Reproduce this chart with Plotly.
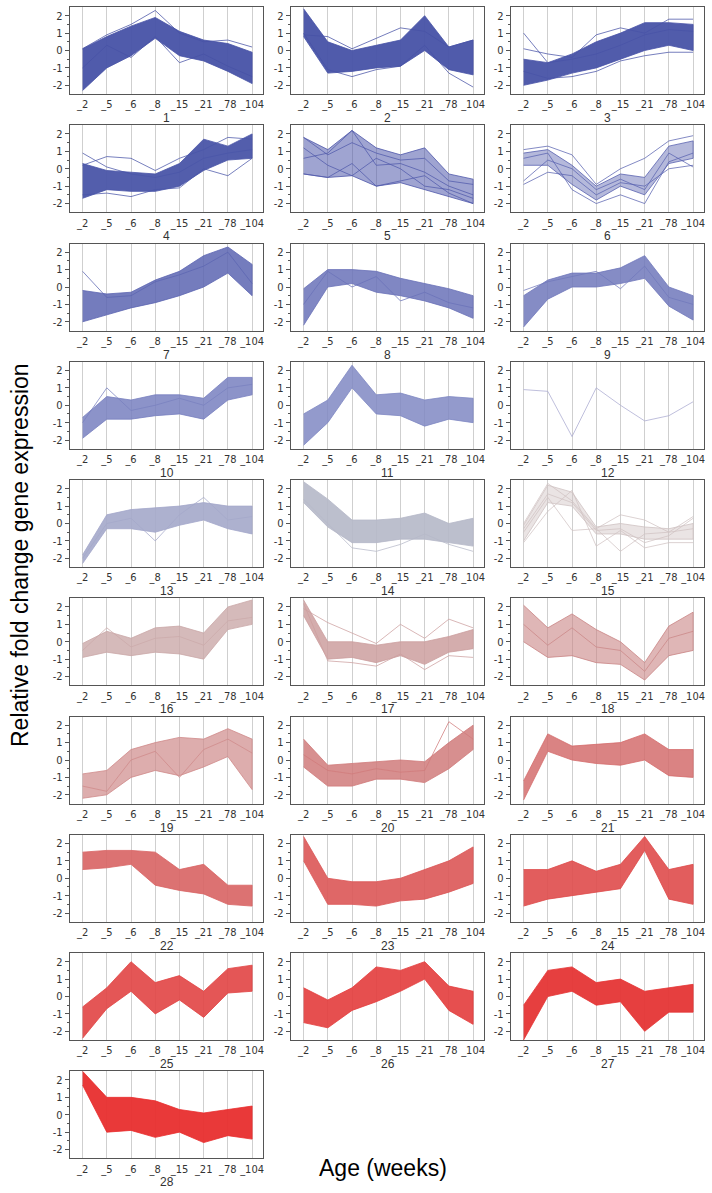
import plotly.graph_objects as go

W, H = 712, 1193
ages = ["_2", "_5", "_6", "_8", "_15", "_21", "_78", "_104"]
y_ticks = [-2, -1, 0, 1, 2]
panel_labels = [str(i) for i in range(1, 29)]

# ---- data: for each cluster, the upper / lower edge of the dense bundle and a few stray profiles ----
p01_hi = [0.1, 0.8, 1.4, 1.9, 1.1, 0.6, 0.4, -0.1]
p01_lo = [-2.3, -1.0, -0.3, 0.7, -0.3, -0.6, -1.2, -1.9]
p01_out = [[0.1, 0.9, 1.5, 2.3, 1.0, 0.5, 0.6, 0.2], [-1.0, 0.3, -0.4, 0.8, -0.7, -0.2, -0.9, -1.5]]

p02_hi = [2.4, 0.5, 0.0, 0.3, 0.6, 2.0, 0.2, 0.6]
p02_lo = [0.8, -1.3, -1.2, -1.0, -0.9, 0.0, -1.1, -1.4]
p02_out = [[0.9, 0.8, 0.1, 0.7, 1.3, 1.1, 0.2, 0.6], [1.0, -1.1, -1.5, -1.1, -0.9, 0.3, -1.3, -2.1]]

p03_hi = [-0.5, -0.7, -0.2, 0.5, 1.0, 1.6, 1.6, 1.5]
p03_lo = [-2.0, -1.7, -1.3, -1.0, -0.5, 0.0, 0.3, 0.0]
p03_out = [[1.0, -0.7, -0.5, -0.2, 0.3, 0.9, 1.2, 1.1], [0.1, -0.2, -0.4, 0.9, 1.3, 1.0, 1.8, 1.8],
           [-1.2, -1.6, -1.5, -1.2, -0.6, -0.3, -0.1, -0.1]]

p04_hi = [0.3, -0.1, -0.2, -0.3, 0.3, 1.7, 1.3, 2.0]
p04_lo = [-1.7, -1.2, -1.3, -1.3, -1.0, -0.1, 0.5, 0.6]
p04_out = [[0.9, 0.1, -0.3, -0.5, -0.2, 0.6, 0.9, 1.1], [0.2, 0.7, 0.6, -0.1, 0.6, 1.1, 1.8, 1.7],
           [-1.5, -1.4, -1.6, -1.2, -1.1, 0.0, -0.4, 0.6]]

p05_hi = [1.8, 1.1, 2.2, 1.2, 0.8, 1.2, -0.3, -0.6]
p05_lo = [-0.3, -0.5, -0.4, -1.0, -0.8, -1.2, -1.6, -2.0]
p05_out = [[1.8, 0.8, 1.5, 0.9, 0.5, 0.6, -0.7, -0.9], [-0.3, -0.5, 0.3, -1.0, -0.7, -0.4, -1.4, -2.0],
           [0.6, 0.9, 2.2, 0.2, 0.3, -0.2, -1.0, -1.5], [1.2, 0.2, -0.4, 0.6, 0.0, -1.0, -1.2, -1.7]]

p06_hi = [0.9, 1.1, 0.2, -1.0, -0.3, -0.5, 1.3, 1.6]
p06_lo = [0.2, 0.2, -0.9, -1.8, -1.0, -1.5, 0.3, 0.6]
p06_out = [[-0.9, -0.2, -0.4, -1.5, -0.8, -1.0, 0.0, 0.2], [1.1, 1.3, 0.8, -0.9, 0.0, 0.6, 1.6, 1.9],
           [0.6, 0.9, -1.2, -2.0, -1.5, -2.0, 0.4, 0.9], [-0.7, 0.5, 0.0, -1.2, -0.6, -1.2, 0.9, 0.1]]

p07_hi = [-0.2, -0.4, -0.3, 0.4, 0.9, 1.8, 2.3, 1.3]
p07_lo = [-2.0, -1.6, -1.2, -0.9, -0.5, 0.0, 0.8, -0.5]
p07_out = [[0.9, -0.6, -0.5, 0.3, 0.7, 1.2, 2.0, 0.2]]

p08_hi = [-0.1, 1.0, 1.0, 0.9, 0.5, 0.2, -0.1, -0.5]
p08_lo = [-2.2, 0.0, 0.2, -0.3, -0.5, -0.8, -1.2, -1.8]
p08_out = [[-1.0, 0.9, 0.0, 0.6, -0.8, -0.3, -0.9, -1.2]]

p09_hi = [-0.5, 0.4, 0.8, 0.8, 1.1, 1.8, 0.0, -0.5]
p09_lo = [-2.3, -0.7, 0.0, 0.0, 0.2, 0.5, -1.1, -1.9]
p09_out = [[-0.2, 0.3, 0.6, 0.9, -0.1, 1.2, -0.6, -1.0]]

p10_hi = [-0.7, 0.5, 0.3, 0.6, 0.6, 0.4, 1.6, 1.6]
p10_lo = [-1.9, -0.8, -0.8, -0.6, -0.5, -0.8, 0.3, 0.6]
p10_out = [[-1.0, 1.0, -0.3, 0.0, 0.4, 0.0, 1.0, 1.2]]

p11_hi = [-0.5, 0.3, 2.3, 0.6, 0.7, 0.3, 0.5, 0.4]
p11_lo = [-2.3, -1.0, 1.0, -0.5, -0.6, -1.2, -0.8, -1.0]
p11_out = []

p12_hi = None
p12_lo = None
p12_out = [[0.9, 0.8, -1.8, 1.0, 0.0, -0.9, -0.6, 0.2]]

p13_hi = [-1.8, 0.5, 0.8, 0.9, 1.0, 1.2, 1.0, 1.0]
p13_lo = [-2.3, -0.3, -0.3, -0.5, -0.1, 0.2, -0.3, -0.6]
p13_out = [[-2.0, 0.0, 0.3, -1.0, 0.5, 1.5, 0.2, 0.4]]

p14_hi = [2.4, 1.4, 0.2, 0.2, 0.3, 0.6, 0.0, 0.3]
p14_lo = [1.2, -0.2, -1.1, -1.1, -0.9, -0.9, -1.1, -1.3]
p14_out = [[1.4, 0.0, -1.4, -1.6, -1.2, -0.6, -1.2, -1.6]]

p15_hi = [-0.1, 2.2, 1.8, -0.2, 0.0, -0.2, -0.3, 0.0]
p15_lo = [-1.0, 1.2, 1.0, -0.6, -0.6, -0.9, -0.9, -0.9]
p15_out = [[0.0, 2.3, 1.3, -0.3, 0.5, 0.2, -0.5, 0.4], [-1.1, 0.7, 1.9, -1.3, -0.4, -1.4, -1.1, -1.1],
           [-0.5, 1.5, -0.4, -0.3, -1.6, -0.6, -0.5, -0.3], [-0.3, 1.7, 1.2, -0.4, -0.3, -1.1, -0.7, 0.3]]

p16_hi = [-0.1, 0.6, 0.2, 0.8, 0.9, 0.5, 2.0, 2.4]
p16_lo = [-0.9, -0.6, -0.8, -0.6, -0.7, -1.0, 0.7, 1.0]
p16_out = [[-0.5, 0.8, -0.3, 0.2, 0.3, -0.2, 1.2, 1.4]]

p17_hi = [2.4, 0.0, 0.0, -0.2, 0.0, 0.0, 0.3, 0.7]
p17_lo = [1.5, -1.0, -0.9, -1.2, -0.8, -1.3, -0.6, -0.4]
p17_out = [[1.9, 1.1, 0.5, -0.1, 1.0, 0.2, 1.3, 0.8], [2.2, -1.1, -1.2, -1.4, -0.7, -1.6, -0.8, -0.9]]

p18_hi = [2.1, 0.8, 1.6, 0.7, 0.0, -1.2, 0.9, 1.7]
p18_lo = [0.0, -0.9, -0.8, -1.2, -1.3, -2.2, -0.8, -0.5]
p18_out = [[1.0, -0.2, 0.8, -0.3, -0.5, -1.7, 0.2, 0.6]]

p19_hi = [-0.8, -0.6, 0.6, 1.0, 1.3, 1.2, 1.8, 1.2]
p19_lo = [-2.2, -2.0, -1.0, -0.6, -0.9, -0.4, 0.2, -1.7]
p19_out = [[-1.5, -1.8, 0.0, 0.5, -1.0, 0.6, 1.2, 0.4]]

p20_hi = [1.2, -0.3, -0.2, -0.1, 0.0, -0.1, 1.0, 2.0]
p20_lo = [-0.4, -1.5, -1.5, -1.1, -1.1, -1.3, -0.5, 0.6]
p20_out = [[0.3, -0.6, -0.8, -0.5, -0.7, -0.6, 2.2, 1.2]]

p21_hi = [-1.2, 1.5, 0.8, 0.9, 1.0, 1.5, 0.6, 0.6]
p21_lo = [-2.3, 0.5, 0.0, -0.2, -0.3, 0.0, -0.9, -1.0]
p21_out = []

p22_hi = [1.5, 1.6, 1.6, 1.5, 0.5, 0.8, -0.4, -0.4]
p22_lo = [0.5, 0.6, 0.8, -0.4, -0.7, -0.9, -1.5, -1.6]
p22_out = []

p23_hi = [2.4, 0.0, -0.2, -0.2, 0.0, 0.5, 1.0, 1.8]
p23_lo = [1.0, -1.5, -1.5, -1.6, -1.3, -1.2, -0.8, -0.3]
p23_out = []

p24_hi = [0.5, 0.5, 1.0, 0.4, 0.8, 2.4, 0.5, 0.8]
p24_lo = [-1.6, -1.2, -1.0, -0.8, -0.6, 1.6, -1.2, -1.5]
p24_out = []

p25_hi = [-0.6, 0.5, 2.0, 0.8, 1.2, 0.3, 1.6, 1.8]
p25_lo = [-2.4, -0.7, 0.3, -1.0, -0.2, -1.2, 0.2, 0.3]
p25_out = []

p26_hi = [0.5, -0.2, 0.5, 1.7, 1.5, 2.0, 0.6, 0.3]
p26_lo = [-1.5, -1.8, -0.8, -0.3, 0.3, 1.0, -0.8, -1.6]
p26_out = []

p27_hi = [-0.5, 1.5, 1.7, 0.8, 1.0, 0.3, 0.5, 0.7]
p27_lo = [-2.5, 0.0, 0.3, -0.5, -0.3, -2.0, -0.9, -0.9]
p27_out = []

p28_hi = [2.5, 1.0, 1.0, 0.8, 0.3, 0.1, 0.3, 0.5]
p28_lo = [1.7, -1.0, -0.9, -1.3, -1.0, -1.6, -1.2, -1.4]
p28_out = []

panel_colors = ["#4752A6", "#4752A6", "#4853A7", "#4A55A8", "#5059AB", "#5A63B0", "#5C65B1",
                "#6A72B8", "#7078BB", "#7880BF", "#8088C3", "#A9AAD0", "#A4A8CA", "#B5B8C8",
                "#D0C3C3", "#CBA9A9", "#CC9F9F", "#C98585", "#CF8A8A", "#D07B7B", "#D46D6D",
                "#D86363", "#DB5656", "#DF4B4B", "#E14444", "#E33C3C", "#E53535", "#E82E2E"]
band_opacity = [0.95, 0.95, 0.95, 0.95, 0.55, 0.45, 0.85, 0.85, 0.85, 0.85, 0.85, 0.0, 0.9, 0.9,
                0.45, 0.8, 0.85, 0.6, 0.7, 0.85, 0.85, 0.9, 0.9, 0.9, 0.9, 0.9, 0.95, 0.95]

panels = [(globals()[f"p{i:02d}_hi"], globals()[f"p{i:02d}_lo"], globals()[f"p{i:02d}_out"]) for i in range(1, 29)]


def rgba(hexc, a):
    h = hexc.lstrip("#")
    return f"rgba({int(h[0:2],16)},{int(h[2:4],16)},{int(h[4:6],16)},{a})"


TICK_FONT = dict(family="Liberation Sans Narrow, DejaVu Sans Condensed, Arial Narrow, Liberation Sans",
                 size=11, color="#333333")

# ---- layout geometry (pixels) ----
col_left = [70, 291, 511]
pw, ph = 193, 87
top0, pitch = 7, 118.25

fig = go.Figure()
annotations = []
for k, (hi, lo, outs) in enumerate(panels):
    r, c = divmod(k, 3)
    n = k + 1
    xs = "x" if n == 1 else f"x{n}"
    ys = "y" if n == 1 else f"y{n}"
    col = panel_colors[k]
    x0 = col_left[c]
    x1 = x0 + pw
    yt = top0 + pitch * r
    yb = yt + ph
    if hi is not None:
        fig.add_trace(go.Scatter(x=ages + ages[::-1], y=hi + lo[::-1], fill="toself", mode="lines",
                                 fillcolor=rgba(col, band_opacity[k]), line=dict(color=rgba(col, 0.8), width=1),
                                 xaxis=xs, yaxis=ys, hoverinfo="skip", showlegend=False))
    for o in outs:
        fig.add_trace(go.Scatter(x=ages, y=o, mode="lines", line=dict(color=rgba(col, 0.75), width=1),
                                 xaxis=xs, yaxis=ys, hoverinfo="skip", showlegend=False))
    xa = dict(domain=[x0 / W, x1 / W], anchor=ys, type="category", categoryorder="array", categoryarray=ages,
              range=[-0.52, 7.45], showgrid=True, gridcolor="#cfcfcf", gridwidth=1, showline=True,
              linecolor="#555555", linewidth=1.3, mirror=True, ticks="", tickangle=0, fixedrange=True,
              tickfont=TICK_FONT, zeroline=False, automargin=False)
    ya = dict(domain=[1 - yb / H, 1 - yt / H], anchor=xs, range=[-2.5, 2.5], tickvals=y_ticks,
              ticktext=[str(v) for v in y_ticks], ticks="outside", ticklen=4, tickcolor="#555555",
              showgrid=False, zeroline=False, showline=True, linecolor="#555555", linewidth=1.3, mirror=True,
              minor=dict(tickvals=[-1.5, -0.5, 0.5, 1.5], ticks="outside", ticklen=2, tickcolor="#555555"),
              tickfont=TICK_FONT, automargin=False)
    fig.layout["xaxis" if n == 1 else f"xaxis{n}"] = xa
    fig.layout["yaxis" if n == 1 else f"yaxis{n}"] = ya
    annotations.append(dict(text=panel_labels[k], x=(x0 + x1) / 2 / W, y=1 - (yb + 24) / H, xref="paper",
                            yref="paper", showarrow=False, xanchor="center", yanchor="middle",
                            font=dict(family="Liberation Sans, Arial", size=12, color="#333333")))

annotations.append(dict(text="Relative fold change gene expression", x=20 / W, y=1 - 555 / H, xref="paper",
                        yref="paper", showarrow=False, textangle=-90, xanchor="center", yanchor="middle",
                        font=dict(family="Liberation Sans, Arial", size=23, color="#000000")))
annotations.append(dict(text="Age (weeks)", x=383 / W, y=1 - 1168 / H, xref="paper", yref="paper",
                        showarrow=False, xanchor="center", yanchor="middle",
                        font=dict(family="Liberation Sans, Arial", size=23, color="#000000")))

fig.update_layout(width=W, height=H, margin=dict(l=0, r=0, t=0, b=0), paper_bgcolor="white",
                  plot_bgcolor="white", annotations=annotations, showlegend=False)

fig.write_html("out.html", config={"displayModeBar": False},
               post_script="document.body.style.margin='0';document.body.style.overflow='hidden';")
